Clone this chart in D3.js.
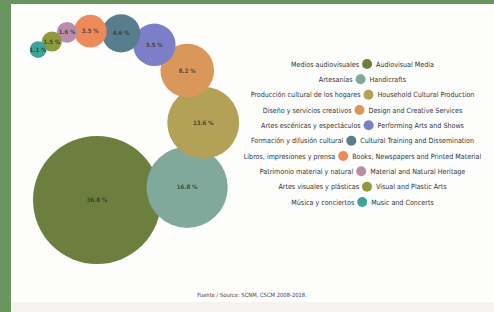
<!DOCTYPE html>
<html>
<head>
<meta charset="utf-8">
<script src="https://d3js.org/d3.v7.min.js"></script>
<style>
  html, body { margin: 0; padding: 0; background: #6b955f; }
  svg { display: block; }
  text { font-family: "Liberation Sans Narrow", "DejaVu Sans Condensed", sans-serif; }
</style>
</head>
<body>
<script>
// data, largest first (chain order)
const sectoresES = ['Medios audiovisuales', 'Artesanías', 'Producción cultural de los hogares',
  'Diseño y servicios creativos', 'Artes escénicas y espectáculos', 'Formación y difusión cultural',
  'Libros, impresiones y prensa', 'Patrimonio material y natural', 'Artes visuales y plásticas',
  'Música y conciertos'];
const sectorsEN = ['Audiovisual Media', 'Handicrafts', 'Household Cultural Production',
  'Design and Creative Services', 'Performing Arts and Shows', 'Cultural Training and Dissemination',
  'Books, Newspapers and Printed Material', 'Material and Natural Heritage', 'Visual and Plastic Arts',
  'Music and Concerts'];
const shares = [36.8, 16.8, 13.6, 8.2, 5.5, 4.6, 3.5, 1.6, 1.5, 1.1];
const colors = ['#6d7f3e', '#80a99b', '#b3a158', '#d9975a', '#7c7fc8', '#587d8c',
  '#ee8a5a', '#b98ea9', '#8e9a3b', '#3ea39a'];
const source = 'Fuente / Source: SCNM, CSCM 2008-2018.';

// layout: direction (deg) from each bubble to the next one
const chainTurn = [0, -8, -76, -107, -142, -161, -176, 177, 149, 150];

const W = 494, H = 312;
const svg = d3.select('body').append('svg').attr('width', W).attr('height', H);

// white panel inside the green frame
svg.append('rect').attr('x', 11).attr('y', 4).attr('width', W - 11).attr('height', H - 4).attr('fill', '#fdfdfc');
svg.append('rect').attr('x', 11).attr('y', 302).attr('width', W - 11).attr('height', 10).attr('fill', '#f5f3ef');

const r = d3.scalePow().exponent(0.58).domain([0, d3.max(shares)]).range([0, 64]);

// chain the bubbles, each overlapping the previous a little
const nodes = [];
shares.forEach((v, i) => {
  const rad = r(v);
  if (i === 0) {
    nodes.push({ x: 97, y: 200, r: rad, v: v, c: colors[i] });
  } else {
    const p = nodes[i - 1];
    const a = chainTurn[i] * Math.PI / 180;
    const d = (p.r + rad) * 0.87;
    nodes.push({ x: p.x + d * Math.cos(a), y: p.y + d * Math.sin(a), r: rad, v: v, c: colors[i] });
  }
});

const fmt = d => d3.format('.1f')(d) + ' %';

const bub = svg.append('g').selectAll('g').data(nodes).enter().append('g');
bub.append('circle')
  .attr('cx', d => d.x).attr('cy', d => d.y).attr('r', d => d.r)
  .attr('fill', d => d.c);
bub.append('text')
  .attr('x', d => d.x).attr('y', d => d.y + 2)
  .attr('text-anchor', 'middle')
  .style('font-size', '6px').style('font-weight', 'bold')
  .attr('fill', '#2d2d2d').attr('fill-opacity', 0.8)
  .text(d => fmt(d.v));

// legend: each row centred, circle between Spanish and English names
const ly = d3.scalePoint().domain(sectorsEN).range([64, 202]);
const legendCx = 362;
sectorsEN.forEach((en, i) => {
  const row = svg.append('g');
  const es = row.append('text').attr('text-anchor', 'end').attr('y', 2.5)
    .style('font-size', '7.1px').attr('fill', '#333').text(sectoresES[i]);
  const eng = row.append('text').attr('text-anchor', 'start').attr('y', 2.5)
    .style('font-size', '7.1px').attr('fill', '#333').text(en);
  const wEs = es.node().getComputedTextLength();
  const wEn = eng.node().getComputedTextLength();
  const gap = 3, cr = 5;
  const total = wEs + gap + 2 * cr + gap + wEn;
  const cx = legendCx - total / 2 + wEs + gap + cr;
  es.attr('x', cx - cr - gap);
  eng.attr('x', cx + cr + gap + 1);
  row.append('circle').attr('cx', cx).attr('cy', 0).attr('r', cr).attr('fill', colors[i]);
  row.attr('transform', `translate(0,${ly(en)})`);
});

svg.append('text')
  .attr('x', 252).attr('y', 297)
  .attr('text-anchor', 'middle')
  .style('font-size', '5.8px').attr('fill', '#444')
  .text(source);
</script>
</body>
</html>
